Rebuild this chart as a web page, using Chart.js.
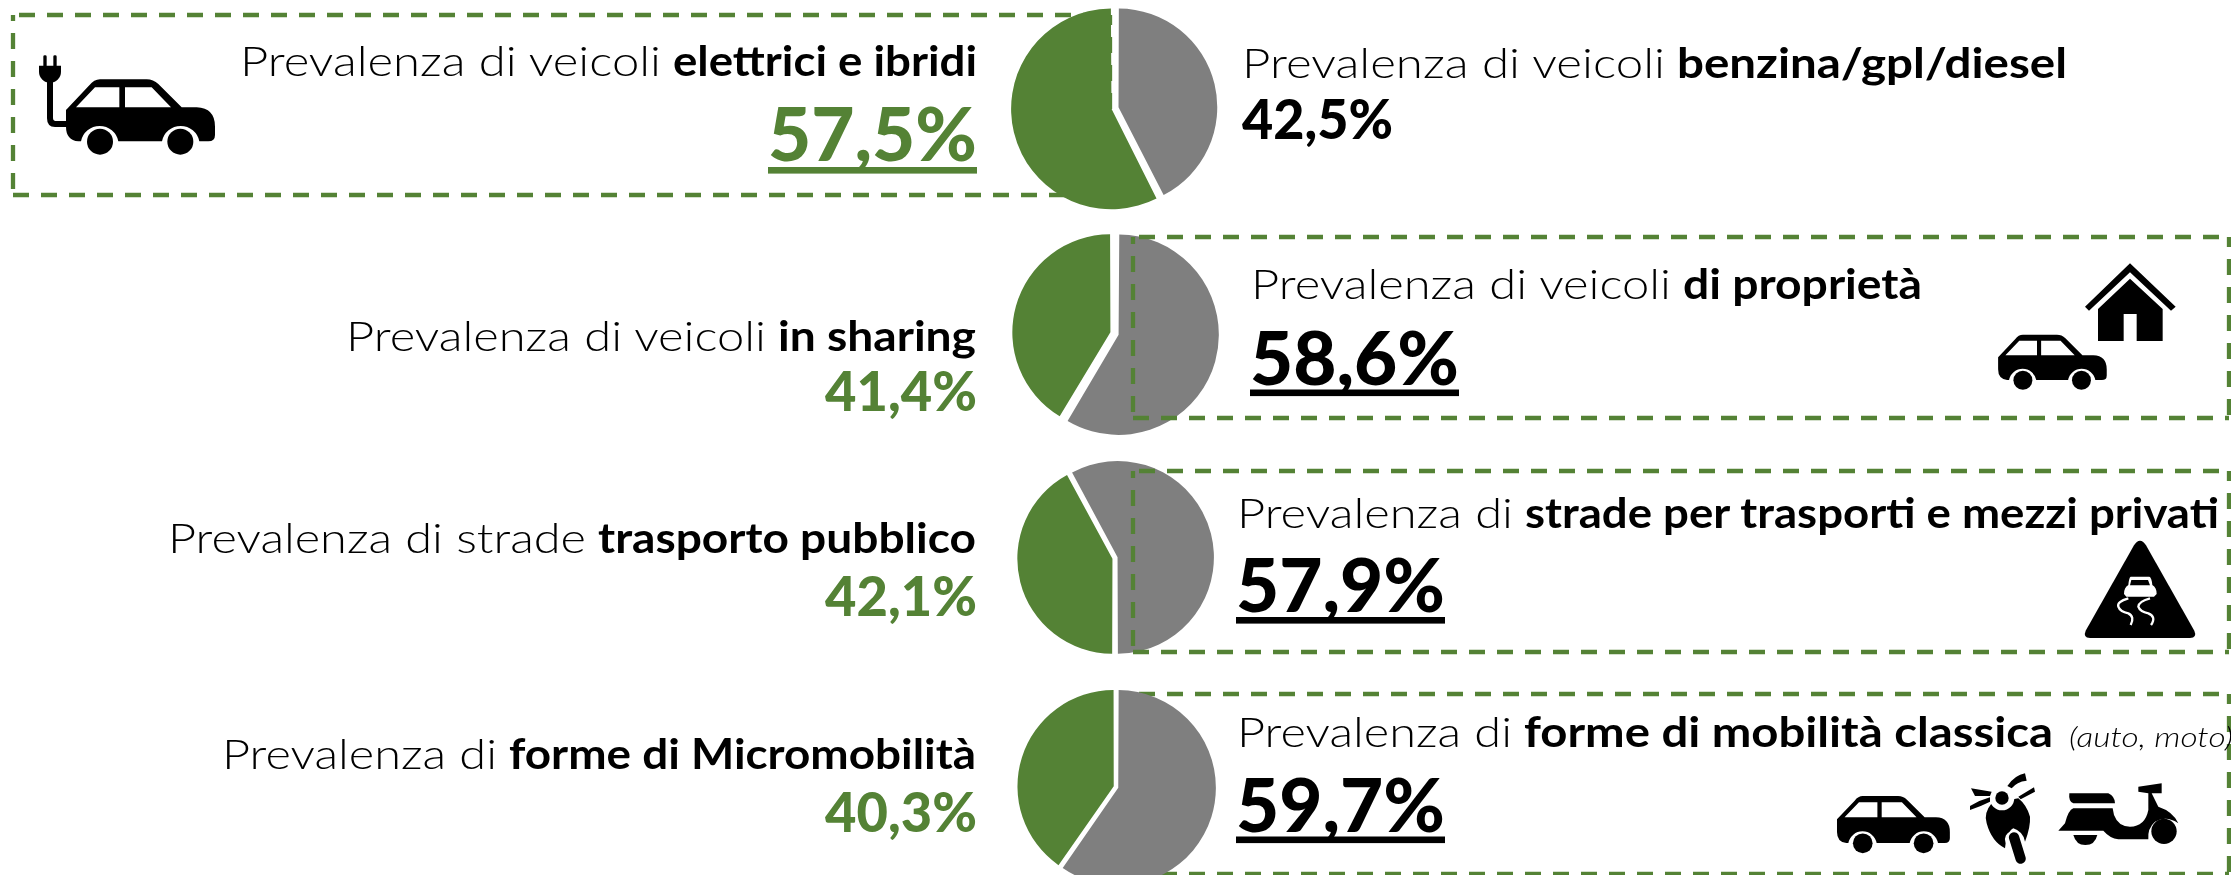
<!DOCTYPE html>
<html>
<head>
<meta charset="utf-8">
<script src="https://cdn.jsdelivr.net/npm/chart.js@4"></script>
<style>
    html, body { margin: 0; padding: 0; background: #fff; width: 2231px; height: 875px; overflow: hidden; }
    svg, canvas { position: absolute; left: 0; top: 0; }
    #boxes-back { z-index: 1; }
    .pie { z-index: 2; }
    #front { z-index: 3; }
    text { font-family: Lato, "Open Sans", sans-serif; fill: #000; }
    .plain { font-weight: 300; }
    .bold { font-weight: 700; }
    .heavy { font-weight: 900; }
</style>
</head>
<body>
<svg id="boxes-back" width="2231" height="875"></svg>
<canvas class="pie" id="pie-0"></canvas>
<canvas class="pie" id="pie-1"></canvas>
<canvas class="pie" id="pie-2"></canvas>
<canvas class="pie" id="pie-3"></canvas>
<svg id="front" width="2231" height="875"></svg>
<script>
// ===== Data =====
const leftPlain = ["Prevalenza di veicoli", "Prevalenza di veicoli", "Prevalenza di strade", "Prevalenza di"];
const leftBold = ["elettrici e ibridi", "in sharing", "trasporto pubblico", "forme di Micromobilità"];
const rightPlain = ["Prevalenza di veicoli", "Prevalenza di veicoli", "Prevalenza di", "Prevalenza di"];
const rightBold = ["benzina/gpl/diesel", "di proprietà", "strade per trasporti e mezzi privati", "forme di mobilità classica"];
const greenValues = [57.5, 41.4, 42.1, 40.3];
const greyValues = [42.5, 58.6, 57.9, 59.7];
const rotations = [0, 0, -28.4, 0];

const GREEN = "#548235";
const GREY = "#7f7f7f";

// ===== Layout (pixels) =====
const pieLayout = [
    { cx: 1115, cy: 107.5, r: 100.5, offset: 14.5 },
    { cx: 1114, cy: 333.5, r: 100, offset: 17 },
    { cx: 1114.5, cy: 558, r: 96.5, offset: 10.5 },
    { cx: 1116, cy: 786.5, r: 97.5, offset: 9.5 }
];
// x, start of the bold part, right edge, baseline
const leftTitle = [[240, 673, 977, 76], [346, 778, 976, 351], [168, 598, 976, 553], [222, 509, 976, 769]];
const rightTitle = [[1242, 1677, 2067, 78], [1251, 1683, 1922, 299], [1237, 1525, 2219, 528], [1237, 1524, 2053, 747]];

// ===== Pies =====
const percent = v => v.toFixed(1).replace(".", ",") + "%";

pieLayout.forEach((p, i) => {
    const canvas = document.getElementById(`pie-${i}`);
    // the arcs grow by a quarter of the offset, so leave room for that
    const size = Math.round(2 * p.r + p.offset / 2);
    canvas.width = size;
    canvas.height = size;
    canvas.style.left = (p.cx - size / 2) + "px";
    canvas.style.top = (p.cy - size / 2) + "px";
    new Chart(canvas, {
        type: "pie",
        data: {
            labels: [rightBold[i], leftBold[i]],
            datasets: [{
                data: [greyValues[i], greenValues[i]],
                backgroundColor: [GREY, GREEN],
                borderWidth: 0,
                offset: p.offset
            }]
        },
        options: {
            responsive: false,
            animation: false,
            rotation: rotations[i],
            layout: { padding: 0 },
            plugins: { legend: { display: false }, tooltip: { enabled: false } }
        }
    });
});

// ===== Overlay helpers =====
function dashed(x1, y1, x2, y2, phase) {
    return `<line x1="${x1}" y1="${y1}" x2="${x2}" y2="${y2}" stroke="${GREEN}" stroke-width="4.3" stroke-dasharray="16 12" stroke-dashoffset="${phase}"/>`;
}

function box(x, y, right, bottom) {
    return dashed(x, bottom, x, y, 22) + dashed(x + 6, y, right, y, 0)
        + dashed(right, y, right, bottom, 6) + dashed(x, bottom, right, bottom, 0);
}

function fitted(cls, str, x, width, baseline, size) {
    return `<text class="${cls}" x="${x}" y="${baseline}" font-size="${size}" textLength="${width}" lengthAdjust="spacingAndGlyphs">${str}</text>`;
}

function label(plain, bold, x, boldX, right, baseline) {
    return fitted("plain", plain, x, boldX - x - 12, baseline, 42) + fitted("bold", bold, boldX, right - boldX, baseline, 42);
}

function number(value, x, width, baseline, size, color, underlineY) {
    let out = `<text class="heavy" x="${x}" y="${baseline}" font-size="${size}" textLength="${width}" lengthAdjust="spacingAndGlyphs" style="fill:${color}">${percent(value)}</text>`;
    if (underlineY) out += `<rect x="${x}" y="${underlineY}" width="${width}" height="6.6" fill="${color}"/>`;
    return out;
}

// ===== Icons =====
const carPath = `
    <path d="M198 330 L268 256 Q282 238 300 238 L440 238 Q460 238 475 252 L545 322 L590 322 Q645 324 645 380 L645 405 Q645 424 625 424 L598 424 A57 57 0 0 0 486 424 L355 424 A57 57 0 0 0 243 424 L235 424 Q198 420 198 380 Z"/>
    <path fill="#fff" d="M228 322 L285 262 L358 262 L358 322 Z M375 262 L455 262 L513 322 L375 322 Z"/>
    <circle cx="300" cy="425" r="39"/><circle cx="541" cy="425" r="39"/>`;

const plugPath = `
    <path fill="none" stroke="#000" stroke-width="18" d="M198 372 L165 372 Q150 372 150 355 L150 240"/>
    <path d="M117 197 H183 V215 A33 33 0 0 1 117 215 Z"/>
    <rect x="130" y="166" width="10" height="34" rx="4"/><rect x="160" y="166" width="10" height="34" rx="4"/>`;

const housePath = `
    <path d="M450 70 L587 200 L573 212 L450 97 L327 212 L315 200 Z"/>
    <path d="M450 116 L548 207 V303 H470 V222 H431 V303 H354 V207 Z"/>`;

const signPath = `
    <path d="M240 212 Q250 212 258 226 L403 482 Q412 503 390 504 L90 504 Q68 503 77 482 L222 226 Q230 212 240 212 Z"/>
    <path fill="#fff" d="M212 320 L268 320 Q275 322 277 345 Q290 352 290 372 L282 380 L199 380 L192 372 Q192 352 205 345 Q207 322 212 320 Z"/>
    <path d="M214 330 H264 L270 346 H210 Z"/>
    <path fill="none" stroke="#fff" stroke-width="7" d="M205 385 Q170 395 175 410 Q180 425 205 430 Q225 440 212 465 M270 385 Q235 395 235 410 Q240 425 265 430 Q290 440 273 465"/>`;

const motoPath = `
    <path d="M545 130 Q520 160 530 190 Q545 245 585 265 Q590 215 610 205 Q640 215 645 245 Q662 200 660 170 Q650 135 625 115 Z"/>
    <circle cx="576" cy="114" r="37" fill="#fff"/><circle cx="576" cy="114" r="20"/>
    <path d="M483 85 L545 95 L540 108 L495 108 Z M480 138 Q510 120 540 112 L540 125 Q510 140 480 150 Z M592 78 Q615 45 645 40 L650 62 Q620 65 605 85 Z M625 110 L672 82 L675 95 L632 118 Z"/>
    <path stroke="#fff" stroke-width="50" stroke-linecap="round" d="M610 238 L618 262"/>
    <path stroke="#000" stroke-width="31" stroke-linecap="round" d="M612 232 L632 296"/>`;

const scooterPath = `
    <path d="M778 100 H895 Q915 110 915 130 H790 Q775 125 778 100 Z"/>
    <path d="M790 145 H908 L912 165 Q925 200 960 200 Q1005 200 1015 150 L1015 100 L985 95 V80 L1055 70 V100 L1025 100 L1045 140 Q1090 155 1105 190 Q1070 165 1035 185 Q1012 205 1015 238 L925 238 Q900 235 880 212 L745 212 L765 190 Q775 150 790 145 Z"/>
    <path d="M790 225 H862 Q855 255 826 255 Q798 255 790 225 Z"/>
    <circle cx="1062" cy="214" r="38"/>`;

const icon = (content, x, y, k) => `<g transform="translate(${x},${y}) scale(${k})">${content}</g>`;

// ===== Draw overlay =====
document.getElementById("boxes-back").innerHTML =
    box(13, 15, 1110, 195) + box(1133, 694, 2229, 874);

let front = box(1133, 237, 2229, 418) + box(1133, 471, 2229, 652);

leftTitle.forEach(([x, boldX, right, y], i) => { front += label(leftPlain[i], leftBold[i], x, boldX, right, y); });
rightTitle.forEach(([x, boldX, right, y], i) => { front += label(rightPlain[i], rightBold[i], x, boldX, right, y); });
front += `<text x="2069" y="747" font-size="27" font-style="italic" class="plain" textLength="164" lengthAdjust="spacingAndGlyphs">(auto, moto)</text>`;

front += number(greenValues[0], 768, 209, 161, 75, GREEN, 167);
front += number(greyValues[0], 1242, 151, 139, 55, "#000");
front += number(greenValues[1], 825, 152, 411, 55, GREEN);
front += number(greyValues[1], 1250, 209, 385, 75, "#000", 389.5);
front += number(greenValues[2], 825, 152, 616, 55, GREEN);
front += number(greyValues[2], 1236, 209, 612, 75, "#000", 617);
front += number(greenValues[3], 825, 152, 832, 55, GREEN);
front += number(greyValues[3], 1236, 209, 832, 75, "#000", 836.5);

front += icon(carPath + plugPath, 0, 0, 1 / 3);
front += icon(carPath, 1950, 277, 0.243);
front += icon(housePath, 1980, 240, 1 / 3);
front += icon(signPath, 2060, 470, 1 / 3);
front += icon(carPath, 1787, 736, 0.2525);
front += icon(motoPath + scooterPath, 1810, 760, 1 / 3);

document.getElementById("front").innerHTML = front;
</script>
</body>
</html>
